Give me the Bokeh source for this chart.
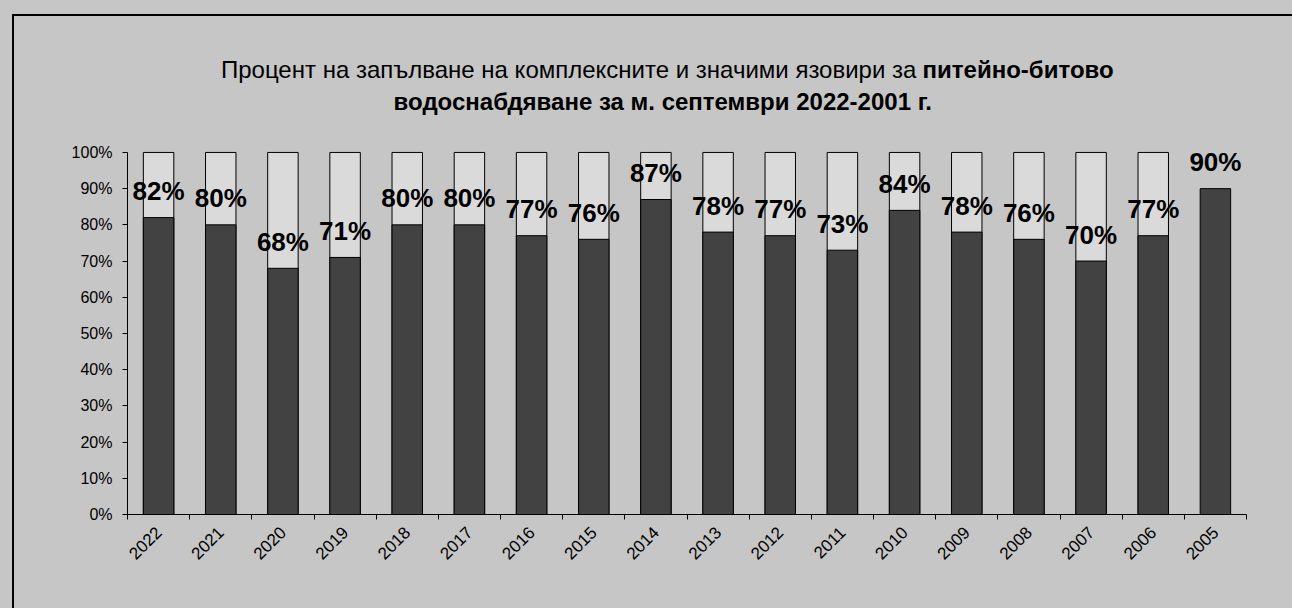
from bokeh.plotting import figure
from bokeh.models import (ColumnDataSource, Range1d, FixedTicker, PrintfTickFormatter,
                          LabelSet)
from bokeh.core.properties import value
from bokeh.embed import file_html
from bokeh.resources import INLINE
import math

years = ["2022", "2021", "2020", "2019", "2018", "2017", "2016", "2015", "2014",
         "2013", "2012", "2011", "2010", "2009", "2008", "2007", "2006", "2005"]
values = [82, 80, 68, 71, 80, 80, 77, 76, 87, 78, 77, 73, 84, 78, 76, 70, 77, 90]
capacity = [100] * 17  # outline boxes (none drawn above 2005)
y_ticks = [0, 10, 20, 30, 40, 50, 60, 70, 80, 90, 100]

title1_normal = "Процент на запълване на комплексните и значими язовири за"
title1_bold = "питейно-битово"
title2_bold = "водоснабдяване за м. септември 2022-2001 г."

BG = "#c6c6c6"
FONT = "Liberation Sans"

n = len(years)
xc = [i + 0.5 for i in range(n)]

src = ColumnDataSource(dict(x=xc, top=values, year=years,
                            lab=[f"{v}%" for v in values],
                            ly=[v + 4.8 for v in values]))
box_src = ColumnDataSource(dict(x=xc[:len(capacity)], top=capacity))

p = figure(width=1292, height=608, output_backend="svg", toolbar_location=None,
           x_range=Range1d(0, n), y_range=Range1d(0, 138.1),
           min_border_left=127, min_border_right=46,
           min_border_top=14, min_border_bottom=94)
p.background_fill_color = BG
p.border_fill_color = BG
p.outline_line_color = None
p.xgrid.visible = False
p.ygrid.visible = False

p.vbar(x="x", top="top", bottom=0, width=0.49, source=box_src,
       fill_color="#dadada", line_color="black", line_width=1)
p.vbar(x="x", top="top", bottom=0, width=0.49, source=src,
       fill_color="#424242", line_color="black", line_width=1)

p.add_layout(LabelSet(x="x", y="ly", text="lab", source=src, text_align="center",
                      text_baseline="alphabetic", text_font=value(FONT),
                      text_font_style="bold", text_font_size="26px",
                      text_color="black"))

# title (two lines, partly bold) drawn inside the frame above the 100% line
p.text(x=[12.69], y=[122.93], text=[title1_normal], text_align="right",
       text_baseline="alphabetic", text_font=value(FONT),
       text_font_size="24px", text_color="black")
p.text(x=[12.79], y=[122.93], text=[title1_bold], text_align="left",
       text_baseline="alphabetic", text_font=value(FONT), text_font_style="bold",
       text_font_size="24px", text_color="black")
p.text(x=[8.61], y=[114.09], text=[title2_bold], text_align="center",
       text_baseline="alphabetic", text_font=value(FONT), text_font_style="bold",
       text_font_size="24px", text_color="black")

# axes
yax = p.yaxis[0]
yax.ticker = FixedTicker(ticks=y_ticks, minor_ticks=[])
yax.formatter = PrintfTickFormatter(format="%d%%")
yax.bounds = (0, 100)
yax.major_tick_in = 0
yax.major_tick_out = 5
yax.minor_tick_out = 0
yax.axis_line_color = "black"
yax.major_label_text_font = FONT
yax.major_label_text_font_size = "16px"
yax.major_label_text_color = "black"
yax.major_label_standoff = 10

xax = p.xaxis[0]
xax.ticker = FixedTicker(ticks=xc, minor_ticks=list(range(n + 1)))
xax.major_label_overrides = {x: y for x, y in zip(xc, years)}
xax.major_tick_in = 0
xax.major_tick_out = 0
xax.minor_tick_in = 0
xax.minor_tick_out = 5
xax.axis_line_color = "black"
xax.major_label_orientation = math.pi / 4
xax.major_label_text_font = FONT
xax.major_label_text_font_size = "17px"
xax.major_label_text_color = "black"
xax.major_label_standoff = 10

css = ("<style>html,body{background:%s;overflow:hidden;}"
       "body::after{content:'';position:fixed;left:12px;top:14px;right:0;bottom:0;"
       "border-left:2px solid #000;border-top:2px solid #000;"
       "z-index:100;pointer-events:none;}</style>" % BG)
html = file_html(p, INLINE)
html = html.replace("<head>", "<head>" + css, 1)
open("out.html", "w").write(html)
